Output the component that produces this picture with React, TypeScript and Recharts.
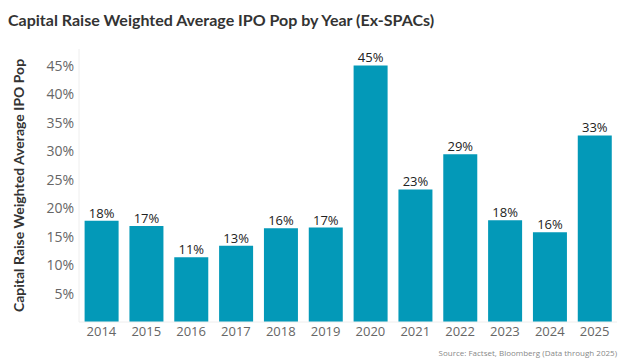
import React from "react";
import { BarChart, Bar, XAxis, YAxis, LabelList, Label } from "recharts";

const years = ["2014", "2015", "2016", "2017", "2018", "2019", "2020", "2021", "2022", "2023", "2024", "2025"];
const popValues = [17.8, 16.9, 11.4, 13.4, 16.5, 16.6, 45.1, 23.3, 29.5, 17.9, 15.8, 32.8];
const popLabels = ["18%", "17%", "11%", "13%", "16%", "17%", "45%", "23%", "29%", "18%", "16%", "33%"];
const yTicks = [5, 10, 15, 20, 25, 30, 35, 40, 45];

const data = years.map((y, i) => ({ year: y, value: popValues[i], label: popLabels[i] }));

const FONT = "'Open Sans', sans-serif";
const TITLE_FONT = "Lato, sans-serif";

export default function App() {
  return (
    <div style={{ position: "absolute", left: 0, top: 0, width: 624, height: 364, background: "#fff", fontFamily: FONT }}>
      <div style={{ position: "absolute", left: 8, top: 10, fontSize: 16, fontWeight: 700, color: "#333", whiteSpace: "nowrap", fontFamily: TITLE_FONT }}>
        Capital Raise Weighted Average IPO Pop by Year (Ex-SPACs)
      </div>
      <BarChart
        width={624}
        height={364}
        data={data}
        margin={{ top: 49, right: 7, bottom: 12, left: 0 }}
        barCategoryGap="12.5%"
      >
        <XAxis
          dataKey="year"
          tickSize={0}
          tickMargin={5}
          axisLine={{ stroke: "#eeeeee" }}
          tick={{ fill: "#666", fontSize: 13, fontFamily: FONT }}
          interval={0}
        />
        <YAxis
          width={79}
          domain={[0, 48]}
          ticks={yTicks}
          tickFormatter={(v: number) => `${v}%`}
          tickSize={0}
          tickMargin={5}
          axisLine={{ stroke: "#eeeeee" }}
          tick={{ fill: "#666", fontSize: 14, fontFamily: FONT }}
        >
          <Label
            value="Capital Raise Weighted Average IPO Pop"
            angle={-90}
            position="insideLeft"
            offset={19}
            style={{ textAnchor: "middle", fill: "#333", fontSize: 14, fontWeight: 700, fontFamily: TITLE_FONT }}
          />
        </YAxis>
        <Bar dataKey="value" fill="#0399B8" isAnimationActive={false}>
          <LabelList dataKey="label" position="top" offset={3} style={{ fill: "#222", fontSize: 13, fontFamily: FONT }} />
        </Bar>
      </BarChart>
      <div style={{ position: "absolute", right: 7, top: 347, fontSize: 8, color: "#888", whiteSpace: "nowrap" }}>
        Source: Factset, Bloomberg (Data through 2025)
      </div>
    </div>
  );
}
